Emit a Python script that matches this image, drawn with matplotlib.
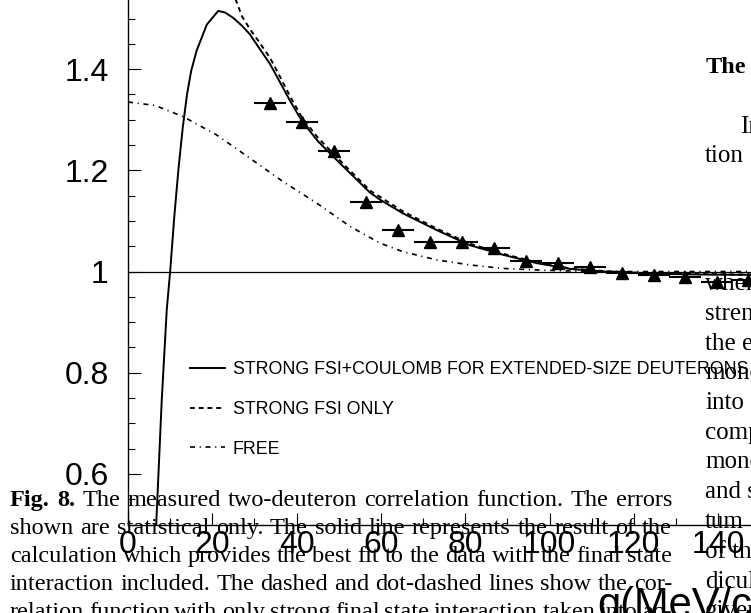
import matplotlib
matplotlib.use("Agg")
import matplotlib.pyplot as plt
from matplotlib.ticker import MultipleLocator, FixedLocator

W, H = 751, 613

# measured points (q in MeV/c, correlation)
q_data = [33.7, 41.3, 48.9, 56.5, 64.1, 71.6, 79.2, 86.8, 94.4, 101.9,
          109.5, 117.2, 124.7, 132.2, 139.7, 147.1]
c_data = [1.333, 1.295, 1.239, 1.137, 1.082, 1.058, 1.058, 1.046, 1.021, 1.017,
          1.008, 0.998, 0.993, 0.990, 0.980, 0.983]
q_half_bin = 3.8

# strong FSI + Coulomb, extended-size deuterons
q_solid = [6.0, 6.8, 8.0, 9.2, 10.0, 11.0, 12.0, 13.0, 14.0, 15.0, 16.3, 18.7,
           21.4, 23.0, 25.0, 27.0, 28.9, 31.0, 33.7, 36.0, 38.4, 41.3, 45.0,
           48.7, 52.0, 57.4, 59.8, 65.2, 73.2, 81.1, 89.0, 97.0, 104.9, 112.7,
           120.0, 128.6, 136.0, 144.4, 155.0]
c_solid = [0.36, 0.52, 0.745, 0.925, 1.0, 1.11, 1.205, 1.285, 1.35, 1.397, 1.437,
           1.488, 1.515, 1.512, 1.501, 1.486, 1.469, 1.443, 1.41, 1.375, 1.338,
           1.297, 1.258, 1.227, 1.20, 1.156, 1.142, 1.115, 1.082, 1.052, 1.033,
           1.0165, 1.005, 1.0, 0.997, 0.995, 0.994, 0.9935, 0.994]

# strong FSI only
q_dash = [18.0, 21.0, 23.0, 25.0, 27.0, 29.0, 31.0, 33.7, 36.0, 38.4, 41.3, 45.0,
          48.7, 52.0, 57.4, 65.2, 73.2, 81.1, 89.0, 97.0, 104.9, 112.7, 120.0,
          128.6, 136.0, 144.4, 155.0]
c_dash = [1.95, 1.72, 1.62, 1.55, 1.505, 1.478, 1.455, 1.422, 1.386, 1.347, 1.304,
          1.265, 1.233, 1.205, 1.160, 1.119, 1.085, 1.055, 1.035, 1.018, 1.006,
          1.001, 0.998, 0.996, 0.995, 0.994, 0.995]

# free
q_free = [0.0, 6.5, 13.1, 21.0, 28.9, 36.9, 44.8, 52.7, 59.8, 65.3, 73.2, 81.1,
          89.0, 97.0, 105.0, 115.0, 155.0]
c_free = [1.335, 1.328, 1.306, 1.270, 1.224, 1.177, 1.135, 1.089, 1.056, 1.039,
          1.023, 1.013, 1.006, 1.003, 1.001, 1.0, 1.0]

x_ticks = [0, 20, 40, 60, 80, 100, 120, 140]
y_ticks = [0.6, 0.8, 1.0, 1.2, 1.4]
y_tick_labels = ["0.6", "0.8", "1", "1.2", "1.4"]

legend_labels = ["STRONG FSI+COULOMB FOR EXTENDED-SIZE DEUTERONS",
                 "STRONG FSI ONLY", "FREE"]

caption = [
    "Fig. 8. The measured two-deuteron correlation function. The errors",
    "shown are statistical only. The solid line represents the result of the",
    "calculation which provides the best fit to the data with the final state",
    "interaction included. The dashed and dot-dashed lines show the cor-",
    "relation function with only strong final state interaction taken into ac-",
]
right_col = ["where", "strength", "the effect", "mono", "into", "compa",
             "mono", "and s", "tum", "of th", "dicul", "given"]

plt.rcParams['font.family'] = ['Liberation Sans', 'DejaVu Sans']
fig = plt.figure(figsize=(W / 100, H / 100), dpi=100)

# axes placed so that the visible window matches the cropped page
x_per = 4.215      # px per MeV/c
y_per = 506.0      # px per unit of C
xmin, xmax = 0.0, 160.0
ymin, ymax = 0.5, 1.6
bottom_px = 271.5 + (1.0 - ymin) * y_per
ax = fig.add_axes([128 / W, (H - bottom_px) / H,
                   (xmax - xmin) * x_per / W, (ymax - ymin) * y_per / H])
ax.set_xlim(xmin, xmax)
ax.set_ylim(ymin, ymax)
ax.patch.set_alpha(0)

ax.axhline(1.0, color='k', lw=0.9)
l1, = ax.plot(q_solid, c_solid, color='k', lw=1.4, label=legend_labels[0])
l2, = ax.plot(q_dash, c_dash, color='k', lw=1.4, linestyle=(0, (2.5, 2.0)),
              label=legend_labels[1])
l3, = ax.plot(q_free, c_free, color='k', lw=1.2, linestyle=(0, (3.0, 2.8, 0.7, 2.8)),
              label=legend_labels[2])
ax.errorbar(q_data, c_data, xerr=q_half_bin, fmt='^', ms=8, color='k',
            elinewidth=1.5, capsize=0)

for s in ['top', 'right']:
    ax.spines[s].set_visible(False)
ax.spines['left'].set_linewidth(1.0)
ax.spines['bottom'].set_linewidth(1.0)

ax.xaxis.set_major_locator(FixedLocator(x_ticks))
ax.xaxis.set_minor_locator(MultipleLocator(10))
ax.yaxis.set_major_locator(FixedLocator(y_ticks))
ax.set_yticklabels(y_tick_labels)
ax.yaxis.set_minor_locator(MultipleLocator(0.05))
ax.tick_params(which='both', direction='in', width=0.8, labelsize=23)
ax.tick_params(which='major', length=9)
ax.tick_params(which='minor', length=5)
ax.tick_params(axis='y', which='major', pad=14)
ax.tick_params(axis='x', which='major', pad=4)

leg = fig.legend(handles=[l1, l2, l3], loc='upper left',
                 bbox_to_anchor=(190 / W, 1 - 361 / H), frameon=False,
                 fontsize=12.8, handlelength=1.95, handletextpad=0.45,
                 labelspacing=1.28, borderpad=0, borderaxespad=0)

fig.text(597 / W, 1 - 617 / H, "q(MeV/c)", fontsize=30, va='baseline', ha='left')

# page text overlaid on the figure
renderer = fig.canvas.get_renderer()


def justify(line, x_left, x_right, base, size, n_bold=0):
    words = line.split()
    texts = []
    for i, w in enumerate(words):
        t = fig.text(0, 1 - base / H, w, fontsize=size, family='Liberation Serif',
                     fontweight='bold' if i < n_bold else 'normal',
                     va='baseline', ha='left', zorder=5)
        texts.append(t)
    widths = [t.get_window_extent(renderer).width for t in texts]
    gap = (x_right - x_left - sum(widths)) / (len(words) - 1)
    x = x_left
    for t, w in zip(texts, widths):
        t.set_x(x / W)
        x += w + gap


for i, line in enumerate(caption):
    justify(line, 10, 672, 506 + 28 * i, 17.5, n_bold=2 if i == 0 else 0)

fig.text(706 / W, 1 - 73 / H, "The", fontsize=17.5, fontweight='bold',
         family='Liberation Serif', va='baseline')
fig.text(740 / W, 1 - 133 / H, "In", fontsize=18, family='Liberation Serif',
         va='baseline')
fig.text(705 / W, 1 - 162 / H, "tion", fontsize=18, family='Liberation Serif',
         va='baseline')
for i, word in enumerate(right_col):
    fig.text(705 / W, 1 - (290 + 29.75 * i) / H, word, fontsize=18,
             family='Liberation Serif', va='baseline', zorder=5)

fig.savefig("out.png", dpi=100)
